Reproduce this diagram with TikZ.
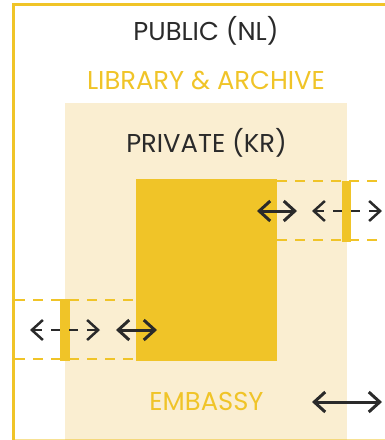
\documentclass[tikz,border=0pt]{standalone}
\usepackage{fontspec}
\setmainfont{Poppins}
\usetikzlibrary{arrows.meta}
\definecolor{gold}{HTML}{F0C428}
\definecolor{cream}{HTML}{FAEED1}
\definecolor{ink}{HTML}{2A2A2A}
\begin{document}
\begin{tikzpicture}[x=1pt,y=-1pt,
  lbl/.style={font=\fontsize{25.8}{30}\selectfont, anchor=base, inner sep=0pt},
  band/.style={gold, line width=2.5pt, dash pattern=on 10pt off 8pt},
  both/.style={ink, line width=3pt, {Straight Barb[length=11pt,width=20pt]}-{Straight Barb[length=11pt,width=20pt]}},
  dboth/.style={ink, line width=2.5pt, dash pattern=on 9pt off 9pt, {Straight Barb[length=11pt,width=20pt]}-{Straight Barb[length=11pt,width=20pt]}}]
\useasboundingbox (0,0) rectangle (385,440);
\clip (0,0) rectangle (385,440);
% panels
\fill[cream] (65,103) rectangle (347,442);
\fill[gold] (136,179) rectangle (277,361);
% outer frame
\draw[gold, line width=2.8pt] (13.75,460) -- (13.75,4.75) -- (400,4.75);
\draw[gold, opacity=0.5, line width=1pt] (13.75,439.6) -- (400,439.6);
% right band
\draw[band] (277,181) -- (385,181);
\draw[band] (277,240) -- (385,240);
\fill[gold] (342,181) rectangle (351,242);
% left band
\draw[band] (15,300) -- (136,300);
\draw[band] (15,359) -- (136,359);
\fill[gold] (60,299) rectangle (70,361);
% texts
\node[lbl, text=ink] (public) at (206,40) {PUBLIC (NL)};
\node[lbl, text=gold] (library) at (206,89.5) {LIBRARY \& ARCHIVE};
\node[lbl, text=ink] (private) at (206.5,152) {PRIVATE (KR)};
\node[lbl, text=gold] (embassy) at (206.5,410) {EMBASSY};
% arrow endpoints
\coordinate (r1a) at (257,211); \coordinate (r1b) at (297,211);
\coordinate (r2a) at (312,211); \coordinate (r2b) at (382,211);
\coordinate (l1a) at (30,330); \coordinate (l1b) at (100,330);
\coordinate (l2a) at (116,330); \coordinate (l2b) at (157,330);
\coordinate (ba) at (312,402); \coordinate (bb) at (382,402);
\draw[both] (r1a) -- (r1b);
\draw[dboth] (r2a) -- (r2b);
\draw[dboth] (l1a) -- (l1b);
\draw[both] (l2a) -- (l2b);
\draw[both] (ba) -- (bb);
\end{tikzpicture}
\end{document}
